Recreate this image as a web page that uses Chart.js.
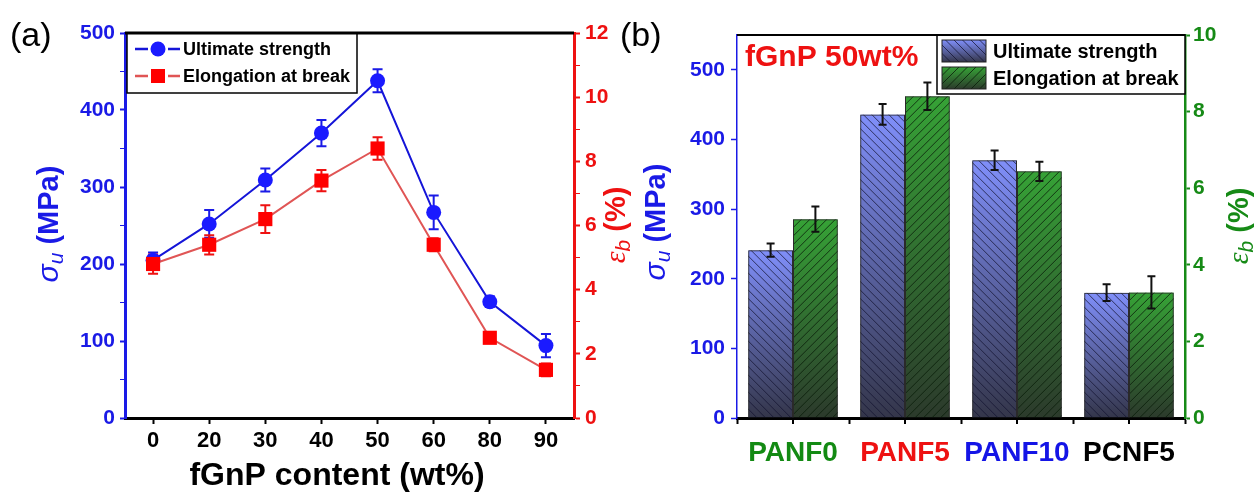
<!DOCTYPE html>
<html>
<head>
<meta charset="utf-8">
<script src="https://cdn.jsdelivr.net/npm/chart.js@4.4.0/dist/chart.umd.min.js"></script>
<style>
    body { margin: 0; background: #fff; }
    #wrap { position: relative; width: 1257px; height: 494px; overflow: hidden; }
    canvas { position: absolute; top: 0; }
    #chartA { left: 0; }
    #chartB { left: 617px; }
</style>
</head>
<body>
<div id="wrap">
    <canvas id="chartA" width="640" height="494"></canvas>
    <canvas id="chartB" width="640" height="494"></canvas>
</div>
<script>
// Panel (a): fGnP content series
const contentLabels = ['0', '20', '30', '40', '50', '60', '80', '90'];
const strengthA = [205, 252, 309, 370, 438, 267, 151, 94];
const strengthErrA = [10, 18, 15, 17, 15, 22, 7, 15];
const elongA = [4.8, 5.4, 6.2, 7.4, 8.4, 5.4, 2.5, 1.5];
const elongErrA = [0.3, 0.3, 0.43, 0.33, 0.35, 0.2, 0.1, 0.2];

// Panel (b): samples at fGnP 50wt%
const samples = ['PANF0', 'PANF5', 'PANF10', 'PCNF5'];
const sampleColors = ['#138a13', '#ee1111', '#1414e6', '#000000'];
const strengthB = [241, 436, 370, 180];
const strengthErrB = [9.5, 15, 14, 12];
const elongB = [5.19, 8.4, 6.44, 3.28];
const elongErrB = [0.33, 0.36, 0.25, 0.42];

const BLUE = '#1a1ae6';
const RED = '#ee1111';
const GREEN = '#168a16';
const SANS = '"Liberation Sans", Arial, sans-serif';

Chart.defaults.font.family = SANS;
Chart.defaults.font.weight = 'bold';

/**
 * Error bars from the dataset's errors array, through its own y scale
 */
function drawErrorBars(chart) {
    const ctx = chart.ctx;
    chart.data.datasets.forEach((ds, i) => {
        if (!ds.errors) return;
        const meta = chart.getDatasetMeta(i);
        const yScale = chart.scales[meta.yAxisID];
        ctx.save();
        ctx.strokeStyle = ds.errorColor;
        ctx.lineWidth = ds.errorWidth;
        meta.data.forEach((el, j) => {
            const v = ds.data[j];
            const e = ds.errors[j];
            const yTop = yScale.getPixelForValue(v + e);
            const yBot = yScale.getPixelForValue(v - e);
            const cap = ds.errorCap;
            ctx.beginPath();
            ctx.moveTo(el.x, yTop); ctx.lineTo(el.x, yBot);
            ctx.moveTo(el.x - cap, yTop); ctx.lineTo(el.x + cap, yTop);
            ctx.moveTo(el.x - cap, yBot); ctx.lineTo(el.x + cap, yBot);
            ctx.stroke();
        });
        ctx.restore();
    });
}

/**
 * Vertical axis title with mixed italic / subscript / bold parts
 */
function drawVerticalTitle(ctx, cx, cy, parts, color) {
    ctx.save();
    ctx.translate(cx, cy);
    ctx.rotate(-Math.PI / 2);
    ctx.fillStyle = color;
    ctx.textBaseline = 'middle';
    ctx.textAlign = 'left';
    let total = 0;
    parts.forEach(p => {
        ctx.font = p.font;
        p.w = ctx.measureText(p.text).width;
        total += p.w;
    });
    let x = -total / 2;
    parts.forEach(p => {
        ctx.font = p.font;
        ctx.fillText(p.text, x, p.dy || 0);
        x += p.w;
    });
    ctx.restore();
}

/**
 * Gradient + diagonal hatch used for bars and legend swatches
 */
function fillHatchedRect(ctx, x0, y0, w, h, style) {
    if (h <= 0) return;
    const g = ctx.createLinearGradient(0, y0, 0, y0 + h);
    g.addColorStop(0, style.top);
    g.addColorStop(1, style.bottom);
    ctx.save();
    ctx.beginPath();
    ctx.rect(x0, y0, w, h);
    ctx.clip();
    ctx.fillStyle = g;
    ctx.fillRect(x0, y0, w, h);
    ctx.strokeStyle = style.hatch;
    ctx.lineWidth = 1;
    ctx.beginPath();
    for (let s = -h; s < w + h; s += 8.5) {
        if (style.dir > 0) {
            ctx.moveTo(x0 + s, y0 + h); ctx.lineTo(x0 + s + h, y0);
        } else {
            ctx.moveTo(x0 + s, y0); ctx.lineTo(x0 + s + h, y0 + h);
        }
    }
    ctx.stroke();
    ctx.restore();
}

const topFrame = {
    id: 'topFrame',
    afterDraw(chart, args, opts) {
        const { ctx, chartArea: a } = chart;
        ctx.save();
        ctx.strokeStyle = '#000';
        ctx.lineWidth = opts.width;
        ctx.beginPath();
        ctx.moveTo(a.left, a.top);
        ctx.lineTo(a.right, a.top);
        ctx.stroke();
        ctx.restore();
    }
};

const decorations = {
    id: 'decorations',
    afterDraw(chart, args, opts) {
        const ctx = chart.ctx;
        (opts.titles || []).forEach(t => drawVerticalTitle(ctx, t.x, t.y, t.parts, t.color));
        (opts.texts || []).forEach(t => {
            ctx.save();
            ctx.font = t.font;
            ctx.fillStyle = t.color;
            ctx.textBaseline = 'middle';
            ctx.textAlign = t.align || 'left';
            ctx.fillText(t.text, t.x, t.y);
            ctx.restore();
        });
    }
};

// ---------- Panel (a) ----------
const errorsBehind = {
    id: 'errorsBehind',
    beforeDatasetsDraw(chart) { drawErrorBars(chart); }
};

const legendA = {
    id: 'legendA',
    afterDatasetsDraw(chart) {
        const { ctx, chartArea: a } = chart;
        const x0 = a.left + 2, y0 = a.top, w = 230, h = 60;
        ctx.save();
        ctx.fillStyle = '#fff';
        ctx.fillRect(x0, y0, w, h);
        ctx.strokeStyle = '#000';
        ctx.lineWidth = 1.5;
        ctx.strokeRect(x0, y0, w, h);
        const rows = [0, 1];
        rows.forEach(i => {
            const ds = chart.data.datasets[i];
            const cy = y0 + 16 + i * 27;
            const lx = x0 + 8;
            const mx = lx + 23;
            ctx.strokeStyle = ds.borderColor;
            ctx.lineWidth = 2.5;
            ctx.beginPath();
            ctx.moveTo(lx, cy); ctx.lineTo(lx + 13, cy);
            ctx.moveTo(lx + 33, cy); ctx.lineTo(lx + 45, cy);
            ctx.stroke();
            ctx.fillStyle = ds.pointBackgroundColor;
            if (ds.pointStyle === 'rect') {
                ctx.fillRect(mx - 7, cy - 7, 14, 14);
            } else {
                ctx.beginPath();
                ctx.arc(mx, cy, 7.5, 0, Math.PI * 2);
                ctx.fill();
            }
            ctx.fillStyle = '#000';
            ctx.font = 'bold 18px ' + SANS;
            ctx.textBaseline = 'middle';
            ctx.fillText(ds.label, x0 + 56, cy + 1);
        });
        ctx.restore();
    }
};

new Chart(document.getElementById('chartA'), {
    type: 'line',
    data: {
        labels: contentLabels,
        datasets: [
            {
                label: 'Ultimate strength',
                data: strengthA,
                errors: strengthErrA,
                errorColor: BLUE, errorWidth: 2, errorCap: 5,
                yAxisID: 'y',
                order: 1,
                borderColor: '#1515d8',
                borderWidth: 2,
                pointStyle: 'circle',
                pointRadius: 7.5,
                pointBorderWidth: 0,
                pointBackgroundColor: '#1a1aff',
                tension: 0
            },
            {
                label: 'Elongation at break',
                data: elongA,
                errors: elongErrA,
                errorColor: RED, errorWidth: 2, errorCap: 5,
                yAxisID: 'y1',
                order: 0,
                borderColor: '#e05555',
                borderWidth: 2,
                pointStyle: 'rect',
                pointRadius: 10,
                pointBorderWidth: 0,
                pointBackgroundColor: '#ff0000',
                tension: 0
            }
        ]
    },
    options: {
        responsive: false,
        animation: false,
        layout: { padding: { top: 33, left: 0, right: 0, bottom: 0 }, autoPadding: false },
        plugins: {
            legend: { display: false },
            tooltip: { enabled: false },
            topFrame: { width: 3 },
            decorations: {
                titles: [
                    {
                        x: 50, y: 224, color: BLUE, parts: [
                            { text: 'σ', font: 'italic 30px ' + SANS },
                            { text: 'u', font: 'italic 21px ' + SANS, dy: 7 },
                            { text: ' (MPa)', font: 'bold 29px ' + SANS }
                        ]
                    },
                    {
                        x: 617, y: 225, color: RED, parts: [
                            { text: 'ε', font: 'italic 30px "Liberation Serif", serif' },
                            { text: 'b', font: 'italic 21px ' + SANS, dy: 7 },
                            { text: ' (%)', font: 'bold 29px ' + SANS }
                        ]
                    }
                ],
                texts: [
                    { text: '(a)', x: 10, y: 37, font: 'normal 34px ' + SANS, color: '#000' },
                    { text: 'fGnP content (wt%)', x: 337, y: 476, align: 'center', font: 'bold 32px ' + SANS, color: '#000' }
                ]
            }
        },
        scales: {
            x: {
                type: 'category',
                offset: true,
                border: { color: '#000', width: 3 },
                grid: { drawOnChartArea: false, tickLength: 6, tickWidth: 2, tickColor: '#000' },
                ticks: { color: '#000', font: { size: 22, weight: 'bold' }, padding: 4, maxRotation: 0 },
                afterFit: (s) => { s.height = 76; }
            },
            y: {
                position: 'left',
                min: 0,
                max: 500,
                border: { color: BLUE, width: 3 },
                grid: {
                    drawOnChartArea: false, tickLength: 5, tickColor: BLUE,
                    tickWidth: (c) => (c.tick && c.tick.value % 100 ? 1 : 2)
                },
                ticks: {
                    stepSize: 50,
                    color: BLUE,
                    font: { size: 21, weight: 'bold' },
                    padding: 5,
                    callback: (v) => (v % 100 === 0 ? v : '')
                },
                afterFit: (s) => { s.width = 125; }
            },
            y1: {
                position: 'right',
                min: 0,
                max: 12,
                border: { color: RED, width: 3 },
                grid: {
                    drawOnChartArea: false, tickLength: 6, tickColor: RED,
                    tickWidth: (c) => (c.tick && c.tick.value % 2 ? 1 : 2)
                },
                ticks: {
                    stepSize: 1,
                    color: RED,
                    font: { size: 21, weight: 'bold' },
                    padding: 5,
                    callback: (v) => (v % 2 === 0 ? v : '')
                },
                afterFit: (s) => { s.width = 66; }
            }
        }
    },
    plugins: [errorsBehind, legendA, topFrame, decorations]
});

// ---------- Panel (b) ----------
const blueHatch = { top: '#808ffa', bottom: '#34364a', hatch: 'rgba(20,20,50,0.75)', dir: -1 };
const greenHatch = { top: '#36a236', bottom: '#2c3a2c', hatch: 'rgba(10,30,10,0.8)', dir: 1 };

const hatchBars = {
    id: 'hatchBars',
    beforeDatasetsDraw(chart) {
        const ctx = chart.ctx;
        chart.data.datasets.forEach((ds, i) => {
            const meta = chart.getDatasetMeta(i);
            meta.data.forEach(bar => {
                const { x, y, base, width } = bar.getProps(['x', 'y', 'base', 'width'], true);
                fillHatchedRect(ctx, x - width / 2, y, width, base - y, ds.hatchStyle);
            });
        });
    },
    afterDatasetsDraw(chart) { drawErrorBars(chart); }
};

const centerTicks = {
    id: 'centerTicks',
    afterDraw(chart) {
        const { ctx, scales } = chart;
        const xs = scales.x;
        ctx.save();
        ctx.strokeStyle = '#000';
        ctx.lineWidth = 2;
        ctx.beginPath();
        xs.ticks.forEach((t, i) => {
            const px = xs.getPixelForTick(i);
            ctx.moveTo(px, xs.top);
            ctx.lineTo(px, xs.top + 6);
        });
        ctx.stroke();
        ctx.restore();
    }
};

const legendB = {
    id: 'legendB',
    afterDatasetsDraw(chart) {
        const { ctx, chartArea: a } = chart;
        const x0 = a.left + 200, y0 = a.top, w = a.right - a.left - 200, h = 59;
        ctx.save();
        ctx.fillStyle = '#fff';
        ctx.fillRect(x0, y0, w, h);
        ctx.strokeStyle = '#000';
        ctx.lineWidth = 1.5;
        ctx.strokeRect(x0, y0, w, h);
        chart.data.datasets.forEach((ds, i) => {
            const sy = y0 + 5 + i * 27;
            fillHatchedRect(ctx, x0 + 5, sy, 44, 22, ds.hatchStyle);
            ctx.strokeStyle = '#222';
            ctx.lineWidth = 1;
            ctx.strokeRect(x0 + 5, sy, 44, 22);
            ctx.fillStyle = '#000';
            ctx.font = 'bold 20px ' + SANS;
            ctx.textBaseline = 'middle';
            ctx.fillText(ds.label, x0 + 56, sy + 12);
        });
        ctx.restore();
    }
};

new Chart(document.getElementById('chartB'), {
    type: 'bar',
    data: {
        labels: samples,
        datasets: [
            {
                label: 'Ultimate strength',
                data: strengthB,
                errors: strengthErrB,
                errorColor: '#111', errorWidth: 2, errorCap: 4,
                yAxisID: 'y',
                hatchStyle: blueHatch,
                backgroundColor: 'rgba(0,0,0,0)',
                borderColor: '#2a2a2a',
                borderWidth: 1,
                categoryPercentage: 0.8,
                barPercentage: 1.0
            },
            {
                label: 'Elongation at break',
                data: elongB,
                errors: elongErrB,
                errorColor: '#111', errorWidth: 2, errorCap: 4,
                yAxisID: 'y1',
                hatchStyle: greenHatch,
                backgroundColor: 'rgba(0,0,0,0)',
                borderColor: '#2a2a2a',
                borderWidth: 1,
                categoryPercentage: 0.8,
                barPercentage: 1.0
            }
        ]
    },
    options: {
        responsive: false,
        animation: false,
        layout: { padding: { top: 35, left: 0, right: 0, bottom: 0 }, autoPadding: false },
        plugins: {
            legend: { display: false },
            tooltip: { enabled: false },
            topFrame: { width: 2 },
            decorations: {
                titles: [
                    {
                        x: 40, y: 222, color: BLUE, parts: [
                            { text: 'σ', font: 'italic 30px ' + SANS },
                            { text: 'u', font: 'italic 21px ' + SANS, dy: 7 },
                            { text: ' (MPa)', font: 'bold 29px ' + SANS }
                        ]
                    },
                    {
                        x: 623, y: 226, color: GREEN, parts: [
                            { text: 'ε', font: 'italic 30px "Liberation Serif", serif' },
                            { text: 'b', font: 'italic 21px ' + SANS, dy: 7 },
                            { text: ' (%)', font: 'bold 29px ' + SANS }
                        ]
                    }
                ],
                texts: [
                    { text: '(b)', x: 3, y: 37, font: 'normal 34px ' + SANS, color: '#000' },
                    { text: 'fGnP 50wt%', x: 128, y: 58, font: 'bold 30px ' + SANS, color: RED }
                ]
            }
        },
        scales: {
            x: {
                type: 'category',
                offset: true,
                border: { color: '#000', width: 3 },
                grid: { offset: true, drawOnChartArea: false, tickLength: 6, tickWidth: 2, tickColor: '#000' },
                ticks: {
                    color: (c) => sampleColors[c.index],
                    font: { size: 28, weight: 'bold' },
                    padding: 12,
                    maxRotation: 0
                },
                afterFit: (s) => { s.height = 76; }
            },
            y: {
                position: 'left',
                min: 0,
                max: 550,
                border: { color: BLUE, width: 1.5 },
                grid: { drawOnChartArea: false, tickLength: 6, tickColor: BLUE, tickWidth: 1.5 },
                ticks: {
                    stepSize: 100,
                    includeBounds: false,
                    color: BLUE,
                    font: { size: 21, weight: 'bold' },
                    padding: 6
                },
                afterFit: (s) => { s.width = 120; }
            },
            y1: {
                position: 'right',
                min: 0,
                max: 10,
                border: { color: GREEN, width: 2.5 },
                grid: { drawOnChartArea: false, tickLength: 5, tickColor: GREEN, tickWidth: 2 },
                ticks: {
                    stepSize: 2,
                    color: GREEN,
                    font: { size: 21, weight: 'bold' },
                    padding: 3
                },
                afterFit: (s) => { s.width = 72; }
            }
        }
    },
    plugins: [hatchBars, legendB, centerTicks, topFrame, decorations]
});
</script>
</body>
</html>
